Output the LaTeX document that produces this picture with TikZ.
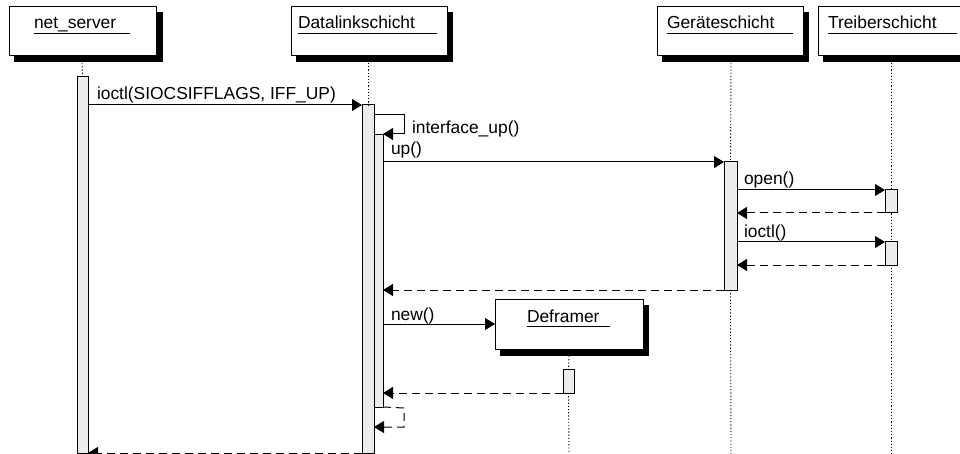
\documentclass[tikz,border=0pt]{standalone}
\usepackage{fontspec}
\setmainfont{Liberation Sans}
\usetikzlibrary{arrows.meta}
\begin{document}
\begin{tikzpicture}[x=1pt,y=-1pt,
  every node/.style={font=\fontsize{17.4}{20}\selectfont, inner sep=0pt, outer sep=0pt},
  obj/.style={draw, line width=1pt, fill=white, anchor=north west},
  objshadow/.style={draw=black, fill=black, line width=0pt},
  ttl/.style={anchor=base west},
  uline/.style={line width=0.9pt},
  lbl/.style={anchor=base west},
  life/.style={line width=0.9pt, dash pattern=on 1.2pt off 2pt},
  bar/.style={draw, line width=1pt, fill=gray!15, anchor=north west},
  msg/.style={line width=1pt, -{Triangle[length=10pt,width=12pt]}},
  ret/.style={line width=1pt, dash pattern=on 8pt off 5pt, -{Triangle[length=10pt,width=12pt]}}
]
\useasboundingbox (0,0) rectangle (960,454);

% object boxes
\node[obj, minimum width=147pt, minimum height=49pt] (ns) at (9,7) {};
\node[obj, minimum width=156pt, minimum height=49pt] (dl) at (291,7) {};
\node[obj, minimum width=146pt, minimum height=49pt] (gs) at (657,7) {};
\node[obj, minimum width=160pt, minimum height=49pt] (ts) at (818,7) {};
\node[obj, minimum width=148pt, minimum height=50pt] (df) at (495,299) {};

% object shadows (L-shaped strips right and below each box)
\fill[objshadow] (14,56.5) -- (156.5,56.5) -- (156.5,13) -- (162,13) -- (162,62) -- (14,62) -- cycle;
\fill[objshadow] (296,56.5) -- (447.5,56.5) -- (447.5,13) -- (452,13) -- (452,62) -- (296,62) -- cycle;
\fill[objshadow] (662,56.5) -- (803.5,56.5) -- (803.5,13) -- (808,13) -- (808,62) -- (662,62) -- cycle;
\fill[objshadow] (823,56.5) -- (978.5,56.5) -- (978.5,13) -- (983,13) -- (983,62) -- (823,62) -- cycle;
\fill[objshadow] (500,349.5) -- (643.5,349.5) -- (643.5,305) -- (648,305) -- (648,355) -- (500,355) -- cycle;

% titles
\node[ttl] (nst) at (34,29) {net\_server};
\node[ttl] (dlt) at (298,29) {Datalinkschicht};
\node[ttl] (gst) at (667,29) {Geräteschicht};
\node[ttl] (tst) at (828,29) {Treiberschicht};
\node[ttl] (dft) at (527,322) {Deframer};
\draw[uline] (34,33) -- (130,33);
\draw[uline] (298,33) -- (437,33);
\draw[uline] (667,33) -- (793,33);
\draw[uline] (828,33) -- (957,33);
\draw[uline] (527,326) -- (610,326);

% lifelines
\coordinate (nsl) at (82,63);
\coordinate (dll) at (368,63);
\coordinate (gsl) at (731,63);
\coordinate (tsl) at (891,63);
\coordinate (dfl) at (569,356);
\coordinate (gsend) at (731,454);
\coordinate (tsend) at (891,454);
\coordinate (dfend) at (569,454);

\draw[life] (tsl) -- (tsend);

% activation bars
\node[bar, minimum width=10.5pt, minimum height=376pt] (b1) at (77.5,77) {};
\node[bar, minimum width=12pt, minimum height=348pt] (b2) at (362,105) {};
\node[bar, minimum width=9pt, minimum height=272pt] (b3) at (374,135) {};
\node[bar, minimum width=13pt, minimum height=128pt] (b4) at (724,162) {};
\node[bar, minimum width=12pt, minimum height=23pt] (b5) at (885,190) {};
\node[bar, minimum width=12pt, minimum height=23pt] (b6) at (885,242) {};
\node[bar, minimum width=11pt, minimum height=24pt] (b7) at (563,369) {};

\draw[life] (nsl) -- (b1.north);
\draw[life] (dll) -- (b2.north);
\draw[life] (gsl) -- (b4.north);
\draw[life] (b4.south) -- (gsend);
\draw[life] (dfl) -- (b7.north);
\draw[life] (b7.south) -- (dfend);

% messages
\draw[msg] (b1.east |- 0,105) -- (b2.north west);
\node[lbl] (m1) at (97,100) {ioctl(SIOCSIFFLAGS, IFF\_UP)};

\coordinate (s1) at (404,115);
\coordinate (s2) at (404,134);
\draw[msg] (b2.east |- 0,115) -- (s1) -- (s2) -- (b3.east |- 0,134);
\node[lbl] (m2) at (412,134) {interface\_up()};

\draw[msg] (b3.east |- 0,162) -- (b4.north west);
\node[lbl] (m3) at (391,155) {up()};

\draw[msg] (b4.east |- 0,190) -- (b5.north west);
\node[lbl] (m4) at (744,185) {open()};
\draw[ret] (b5.south west) -- (b4.east |- 0,213);

\draw[msg] (b4.east |- 0,242) -- (b6.north west);
\node[lbl] (m5) at (744,237) {ioctl()};
\draw[ret] (b6.south west) -- (b4.east |- 0,265);

\draw[ret] (b4.south west) -- (b3.east |- 0,290);

\draw[msg] (b3.east |- 0,324) -- (df.west |- 0,324);
\node[lbl] (m6) at (391,320) {new()};

\draw[ret] (b7.south west) -- (b3.east |- 0,393);

\coordinate (r1) at (404,408);
\coordinate (r2) at (404,427);
\draw[ret] (b3.south east) -- (r1) -- (r2) -- (b2.east |- 0,427);

\draw[ret] (b2.south west) -- (b1.south east);
\end{tikzpicture}
\end{document}
